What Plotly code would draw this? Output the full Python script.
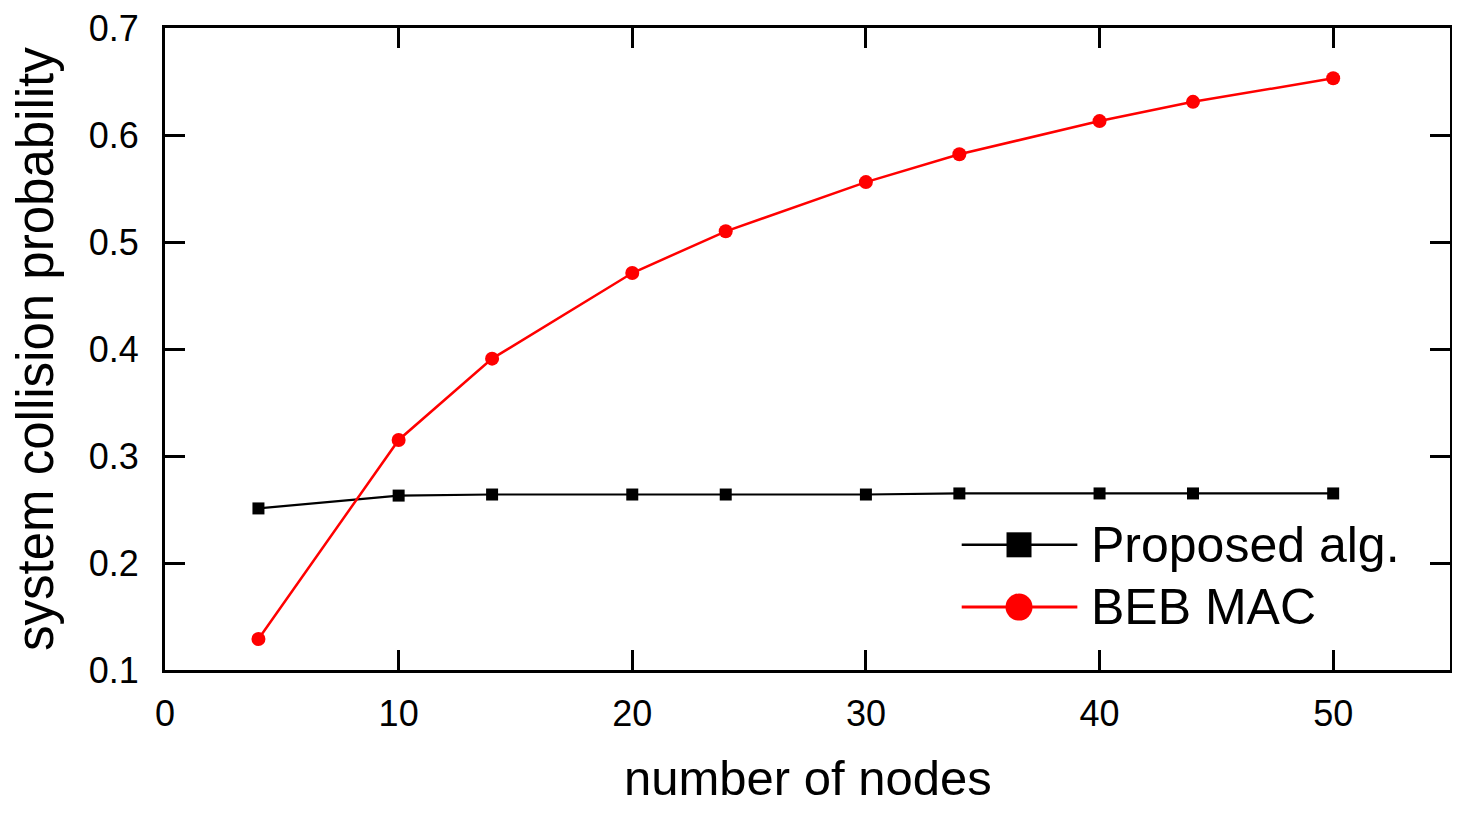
import plotly.graph_objects as go

nodes = [4, 10, 14, 20, 24, 30, 34, 40, 44, 50]
proposed = [0.251, 0.263, 0.264, 0.264, 0.264, 0.264, 0.265, 0.265, 0.265, 0.265]
beb = [0.129, 0.315, 0.391, 0.471, 0.510, 0.556, 0.582, 0.613, 0.631, 0.653]
series_names = ["Proposed alg.", "BEB MAC"]
x_ticks = [0, 10, 20, 30, 40, 50]
y_ticks = [0.1, 0.2, 0.3, 0.4, 0.5, 0.6, 0.7]
x_title = "number of nodes"
y_title = "system collision probability"

FONT = "Liberation Sans, Arial, sans-serif"

fig = go.Figure()
fig.add_trace(go.Scatter(x=nodes, y=proposed, mode="lines+markers", name=series_names[0],
                         line=dict(color="black", width=2.2),
                         marker=dict(symbol="square", size=12, color="black"), showlegend=False))
fig.add_trace(go.Scatter(x=nodes, y=beb, mode="lines+markers", name=series_names[1],
                         line=dict(color="#ff0000", width=2.5),
                         marker=dict(symbol="circle", size=14, color="#ff0000"), showlegend=False))

# custom legend (paper coordinates)
leg_x0, leg_x1, leg_xm, leg_tx = 0.620, 0.710, 0.6646, 0.7190
leg_rows = [(0.195, "black", "rect", 25), (0.098, "#ff0000", "circle", 27)]
shapes = []
annotations = []
for (yy, col, kind, sz), name in zip(leg_rows, series_names):
    shapes.append(dict(type="line", xref="paper", yref="paper", x0=leg_x0, x1=leg_x1, y0=yy, y1=yy,
                       line=dict(color=col, width=3 if col != "black" else 2.5)))
    shapes.append(dict(type=kind, xref="paper", yref="paper", xsizemode="pixel", ysizemode="pixel",
                       xanchor=leg_xm, yanchor=yy, x0=-sz / 2, x1=sz / 2, y0=-sz / 2, y1=sz / 2,
                       fillcolor=col, line=dict(color=col, width=0)))
    annotations.append(dict(xref="paper", yref="paper", x=leg_tx, y=yy, xanchor="left", yanchor="middle",
                            text=name, showarrow=False, font=dict(family=FONT, size=50, color="black")))

# axis titles
annotations.append(dict(xref="paper", yref="paper", x=0.5, y=-0.1682, xanchor="center", yanchor="middle",
                        text=x_title, showarrow=False, borderpad=0,
                        font=dict(family=FONT, size=49, color="black")))
annotations.append(dict(xref="paper", yref="paper", x=-0.1012, y=0.5, xanchor="center", yanchor="middle",
                        text=y_title, textangle=-90, showarrow=False,
                        font=dict(family=FONT, size=51, color="black")))

fig.update_layout(
    width=1444, height=799,
    margin=dict(l=157, r=2, t=20, b=137),
    paper_bgcolor="white", plot_bgcolor="white",
    font=dict(family=FONT, size=36, color="black"),
    shapes=shapes, annotations=annotations,
    showlegend=False,
)
fig.update_xaxes(range=[0, 55], tickmode="array", tickvals=x_ticks, ticktext=[str(v) for v in x_ticks],
                 ticks="inside", ticklen=20, tickwidth=3, tickcolor="black",
                 showline=True, linewidth=3, linecolor="black", mirror="ticks",
                 showgrid=False, zeroline=False, automargin=False, ticklabeloverflow="allow",
                 tickfont=dict(size=36), ticklabelstandoff=10)
fig.update_yaxes(range=[0.1, 0.7], tickmode="array", tickvals=y_ticks, ticktext=[f"{v:.1f}" for v in y_ticks],
                 ticks="inside", ticklen=20, tickwidth=3, tickcolor="black",
                 showline=True, linewidth=3, linecolor="black", mirror="ticks",
                 showgrid=False, zeroline=False, automargin=False, ticklabeloverflow="allow",
                 tickfont=dict(size=36), ticklabelstandoff=16)

fig.write_html("out.html")
